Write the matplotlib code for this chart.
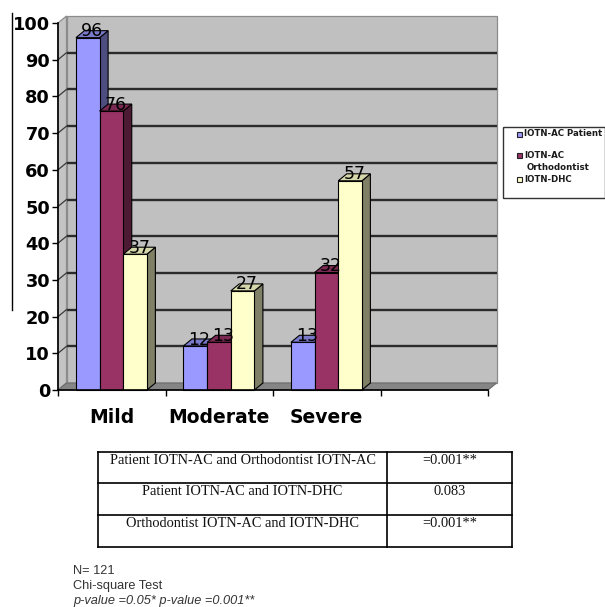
import matplotlib
matplotlib.use("Agg")
import matplotlib.pyplot as plt
from matplotlib.patches import Polygon, Rectangle

# ---- data ----
categories = ["Mild", "Moderate", "Severe"]
series_names = ["IOTN-AC Patient", "IOTN-AC", "IOTN-DHC"]
patient_ac = [96, 12, 13]
orthodontist_ac = [76, 13, 32]
iotn_dhc = [37, 27, 57]
y_ticks = [0, 10, 20, 30, 40, 50, 60, 70, 80, 90, 100]

comparisons = [
    "Patient IOTN-AC and Orthodontist IOTN-AC",
    "Patient IOTN-AC and IOTN-DHC",
    "Orthodontist IOTN-AC and IOTN-DHC",
]
p_values = ["=0.001**", "0.083", "=0.001**"]
notes = ["N= 121", "Chi-square Test", "p-value =0.05* p-value =0.001**"]

# ---- styling ----
front_colors = ["#9999FF", "#993366", "#FFFFCC"]
side_colors = ["#4D4D80", "#4D1A33", "#808066"]
top_colors = ["#7A7ACC", "#7A2952", "#D6D6AB"]
W, H = 605, 607
N_SLOTS = 4                 # category slots on the axis (last one empty)
SLOT_PX = 107.5
UNIT_PX = 3.67              # pixels per value unit
DX = 8.5 / SLOT_PX          # depth offset (x) in data units
DY = 7.0 / UNIT_PX          # depth offset (y) in data units
BAR_W = 0.22
GROUP_PAD = 0.167

fig = plt.figure(figsize=(W / 100, H / 100), dpi=100)
fig.patch.set_facecolor("white")

ax = fig.add_axes([58 / W, (H - 390) / H, 430 / W, 367 / H])
ax.set_xlim(0, N_SLOTS)
ax.set_ylim(0, 100)
ax.patch.set_visible(False)
for s in ("top", "right"):
    ax.spines[s].set_visible(False)
for s in ("left", "bottom"):
    ax.spines[s].set_color("black")
    ax.spines[s].set_linewidth(1.2)
    ax.spines[s].set_zorder(6)

ax.set_yticks(y_ticks)
ax.set_yticklabels([str(t) for t in y_ticks], fontsize=12.8, fontweight="bold",
                   family="DejaVu Sans")
ax.tick_params(axis="y", direction="out", length=4.2, width=1, pad=1.5)
ax.set_xticks(range(N_SLOTS + 1))
ax.set_xticklabels([])
ax.tick_params(axis="x", direction="out", length=4, width=1)

# walls and floor
wall_kw = dict(clip_on=False, zorder=1, linewidth=0.9)
ax.add_patch(Rectangle((DX, DY), N_SLOTS, 100, facecolor="#C0C0C0",
                       edgecolor="#8C8C8C", **wall_kw))
ax.add_patch(Polygon([(0, 0), (0, 100), (DX, 100 + DY), (DX, DY)],
                     closed=True, facecolor="#C4C4C4", edgecolor="#8C8C8C", **wall_kw))
ax.add_patch(Polygon([(0, 0), (N_SLOTS, 0), (N_SLOTS + DX, DY), (DX, DY)],
                     closed=True, facecolor="#858585", edgecolor="#6E6E6E", **wall_kw))

# gridlines on the back wall and the side wall
for v in y_ticks[1:-1]:
    ax.plot([DX, N_SLOTS + DX], [v + DY, v + DY], color="#2B2B2B", lw=1.7,
            zorder=2, clip_on=False, solid_capstyle="butt")
    ax.plot([0, DX], [v, v + DY], color="#3A3A3A", lw=0.9, zorder=2, clip_on=False)

# 3-D style bars
series = [patient_ac, orthodontist_ac, iotn_dhc]
for c in range(len(categories)):
    for i, vals in enumerate(series):
        v = vals[c]
        x0 = c + GROUP_PAD + i * BAR_W
        x1 = x0 + BAR_W
        kw = dict(closed=True, edgecolor="black", linewidth=0.8, zorder=3, clip_on=False)
        ax.add_patch(Polygon([(x1, 0), (x1 + DX, DY), (x1 + DX, v + DY), (x1, v)],
                             facecolor=side_colors[i], **kw))
        ax.add_patch(Polygon([(x0, v), (x1, v), (x1 + DX, v + DY), (x0 + DX, v + DY)],
                             facecolor=top_colors[i], **kw))
        ax.add_patch(Polygon([(x0, 0), (x1, 0), (x1, v), (x0, v)],
                             facecolor=front_colors[i], **kw))
        ax.text(x0 + BAR_W / 2 + DX / 2, v + DY / 2 + 0.8, str(v), ha="center",
                va="center", fontsize=12.5, color="black", zorder=5,
                family="DejaVu Sans")

# category labels
for c, name in enumerate(categories):
    ax.text(c + 0.5, -7.6, name, ha="center", va="center", fontsize=13.5,
            fontweight="bold", family="DejaVu Sans", clip_on=False)

# ---- overlay in pixel coordinates: legend, table, notes ----
ov = fig.add_axes([0, 0, 1, 1])
ov.set_xlim(0, W)
ov.set_ylim(H, 0)
ov.axis("off")
ov.patch.set_visible(False)

# frame line on the left
ov.plot([12, 12], [13, 310], color="black", lw=1)

# legend
ov.add_patch(Rectangle((503, 127), 101.5, 71, facecolor="white",
                       edgecolor="#333333", lw=1))
legend_rows = [(134, 0), (155, 1), (179, 2)]
for y, i in legend_rows:
    ov.add_patch(Rectangle((517, y - 2.5), 5, 5, facecolor=front_colors[i],
                           edgecolor="#222222", lw=0.8))
    ov.text(524, y, series_names[i], ha="left", va="center", fontsize=6.2,
            fontweight="bold", color="#1A1A1A", family="DejaVu Sans")
ov.text(527, 167.5, "Orthodontist", ha="left", va="center", fontsize=6.2,
        fontweight="bold", color="#1A1A1A", family="DejaVu Sans")

# significance table
t_left, t_mid, t_right = 98, 387, 512
row_edges = [452, 483, 515, 547]
tkw = dict(color="black", lw=1.2, solid_capstyle="projecting")
for y in row_edges:
    ov.plot([t_left, t_right], [y, y], **tkw)
for x in (t_left, t_mid, t_right):
    ov.plot([x, x], [row_edges[0], row_edges[-1]], **tkw)
for r, (label, p) in enumerate(zip(comparisons, p_values)):
    y = row_edges[r] + 8.5
    ov.text((t_left + t_mid) / 2, y, label, ha="center", va="center",
            fontsize=10.4, family="Liberation Serif", color="#111111")
    ov.text((t_mid + t_right) / 2, y, p, ha="center", va="center",
            fontsize=10.4, family="Liberation Serif", color="#111111")

# notes
for k, (y, txt) in enumerate(zip([571, 586, 601], notes)):
    ov.text(73, y, txt, ha="left", va="center", fontsize=9.2,
            family="Liberation Sans", color="#333333",
            style="italic" if k == 2 else "normal")

fig.savefig("out.png", dpi=100)
